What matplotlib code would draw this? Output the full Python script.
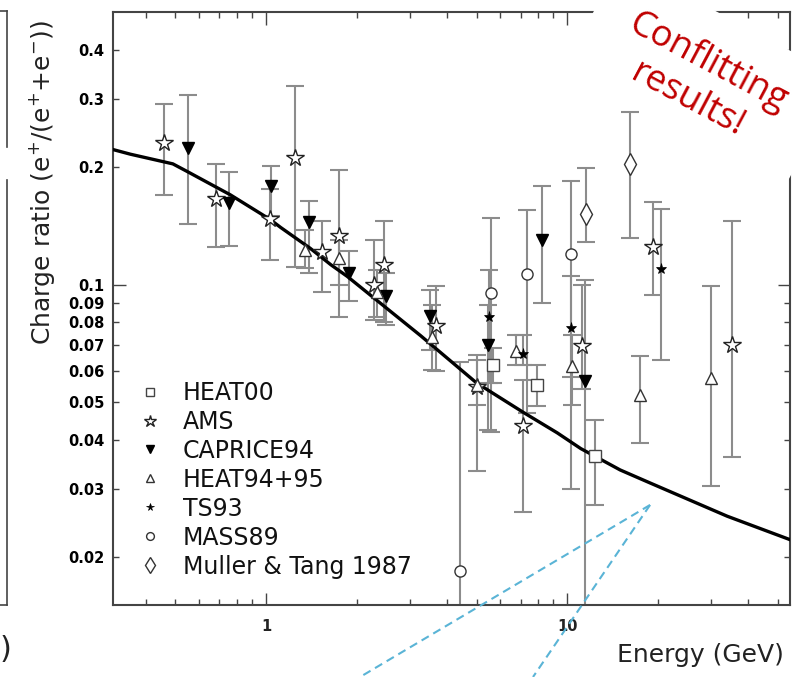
import matplotlib.pyplot as plt
from matplotlib.lines import Line2D
from matplotlib.patches import Polygon
import numpy as np

# positron charge ratio data
curve_e = [0.31, 0.354, 0.49, 0.547, 0.76, 1.03, 1.12, 1.40, 1.64, 1.86, 2.59, 3.26, 5.0, 7.17, 9.27, 11.1, 15.0, 18.9, 34.0, 55.0]
curve_v = [0.222, 0.216, 0.204, 0.195, 0.170, 0.147, 0.140, 0.124, 0.1125, 0.105, 0.0854, 0.074, 0.056, 0.047, 0.0417, 0.038, 0.0335, 0.031, 0.0255, 0.0222]

heat00_e = [5.69, 7.97, 12.42]
heat00_v = [0.0624, 0.0554, 0.0363]
heat00_lo = [0.0561, 0.0488, 0.0273]
heat00_hi = [0.069, 0.0624, 0.0451]

ams_e = [0.457, 0.684, 1.03, 1.245, 1.535, 1.742, 2.28, 2.46, 3.68, 5.03, 7.16, 11.24, 19.3, 35.3]
ams_v = [0.231, 0.166, 0.147, 0.211, 0.121, 0.133, 0.100, 0.112, 0.0782, 0.0548, 0.0433, 0.0695, 0.125, 0.0702]
ams_lo = [0.170, 0.125, 0.116, 0.111, 0.0956, 0.0824, 0.0814, 0.080, 0.0599, 0.0332, 0.0261, 0.054, 0.0943, 0.0361]
ams_hi = [0.291, 0.204, 0.176, 0.3225, 0.146, 0.197, 0.130, 0.146, 0.099, 0.0661, 0.0571, 0.100, 0.1626, 0.146]

caprice_e = [0.549, 0.755, 1.04, 1.39, 1.89, 2.51, 3.49, 5.44, 8.25, 11.46]
caprice_v = [0.224, 0.162, 0.179, 0.145, 0.107, 0.0933, 0.0833, 0.0702, 0.130, 0.0565]
caprice_lo = [0.143, 0.126, 0.150, 0.107, 0.091, 0.079, 0.0681, 0.0425, 0.0898, 0.014]
caprice_hi = [0.307, 0.194, 0.202, 0.1635, 0.1222, 0.1073, 0.0971, 0.0889, 0.1787, 0.103]

heat94_e = [1.35, 1.742, 2.34, 3.57, 5.0, 6.78, 10.39, 17.39, 30.16]
heat94_v = [0.1229, 0.1171, 0.096, 0.0736, 0.0554, 0.0675, 0.062, 0.0522, 0.0576]
heat94_lo = [0.1105, 0.100, 0.0824, 0.0605, 0.0492, 0.0624, 0.0492, 0.0393, 0.0304]
heat94_hi = [0.1384, 0.130, 0.109, 0.0889, 0.0642, 0.0744, 0.0744, 0.0655, 0.0994]

ts93_e = [5.48, 7.16, 10.29, 20.57]
ts93_v = [0.0824, 0.0665, 0.0774, 0.110]
ts93_lo = [0.0561, 0.0624, 0.058, 0.0642]
ts93_hi = [0.1093, 0.0744, 0.105, 0.1566]

mass89_e = [4.39, 5.6, 7.35, 10.3]
mass89_v = [0.0185, 0.0954, 0.1067, 0.120]
mass89_lo = [0.014, 0.042, 0.047, 0.03]
mass89_hi = [0.0635, 0.1485, 0.1557, 0.184]

muller_e = [11.59, 16.14]
muller_v = [0.152, 0.204]
muller_lo = [0.129, 0.132]
muller_hi = [0.199, 0.277]

ytick_vals = [0.02, 0.03, 0.04, 0.05, 0.06, 0.07, 0.08, 0.09, 0.2, 0.3, 0.4]
ytick_labels = ['0.02', '0.03', '0.04', '0.05', '0.06', '0.07', '0.08', '0.09', '0.2', '0.3', '0.4']
xminor_vals = [0.4, 0.5, 0.6, 0.7, 0.8, 0.9, 2, 3, 4, 5, 6, 7, 8, 9, 20, 30, 40, 50]

fig = plt.figure(figsize=(8.06, 6.77), dpi=100)
ax = fig.add_axes([0.1402, 0.1064, 0.8400, 0.8759])
ax.set_xscale('log')
ax.set_yscale('log')

# theory curve
ax.plot(curve_e, curve_v, color='black', lw=2.4, zorder=3, solid_joinstyle='round')

series = [
    ('HEAT00', heat00_e, heat00_v, heat00_lo, heat00_hi,
     dict(marker='s', ms=8, mfc='white', mec='#444', mew=1.0)),
    ('AMS', ams_e, ams_v, ams_lo, ams_hi,
     dict(marker='*', ms=13, mfc='white', mec='#222', mew=1.0)),
    ('CAPRICE94', caprice_e, caprice_v, caprice_lo, caprice_hi,
     dict(marker='v', ms=9, mfc='black', mec='black', mew=1.0)),
    ('HEAT94+95', heat94_e, heat94_v, heat94_lo, heat94_hi,
     dict(marker='^', ms=9, mfc='white', mec='#333', mew=1.0)),
    ('TS93', ts93_e, ts93_v, ts93_lo, ts93_hi,
     dict(marker='*', ms=8, mfc='black', mec='black', mew=0.5)),
    ('MASS89', mass89_e, mass89_v, mass89_lo, mass89_hi,
     dict(marker='o', ms=8, mfc='white', mec='#333', mew=1.0)),
    ('Muller & Tang 1987', muller_e, muller_v, muller_lo, muller_hi,
     dict(marker='d', ms=11, mfc='white', mec='#333', mew=1.0)),
]

handles = []
labels = []
for name, e, v, lo, hi, style in series:
    e = np.array(e)
    v = np.array(v)
    yerr = [v - np.array(lo), np.array(hi) - v]
    ax.errorbar(e, v, yerr=yerr, fmt='none', ecolor='#8c8c8c', elinewidth=1.5,
                capsize=6.5, capthick=1.5, zorder=2)
    ax.plot(e, v, ls='none', zorder=4, **style)
    handles.append(Line2D([], [], ls='none', **style))
    labels.append(name)

ax.set_xlim(0.31, 55)
ax.set_ylim(0.0151, 0.5)

ax.set_xticks([1, 10], ['1', '10'])
ax.set_xticks(xminor_vals, [''] * len(xminor_vals), minor=True)
ax.set_yticks([0.1], ['0.1'])
ax.set_yticks(ytick_vals, ytick_labels, minor=True)

ax.tick_params(which='both', direction='in', top=True, right=True, colors='#444')
ax.tick_params(which='major', length=9, width=1.0)
ax.tick_params(which='minor', length=4.5, width=1.0)
ax.tick_params(axis='y', which='both', pad=6, labelcolor='black')
ax.tick_params(axis='x', which='both', pad=10, labelcolor='#222')
for lab in ax.get_yticklabels(which='both') + ax.get_xticklabels():
    lab.set_fontsize(10.5)
    lab.set_fontweight('bold')
for s in ax.spines.values():
    s.set_color('#444')
    s.set_linewidth(1.5)

ax.set_ylabel('Charge ratio (e$^{+}$/(e$^{+}$+e$^{-}$))', fontsize=18, color='#222',
              va='center')
ax.yaxis.set_label_coords(-0.105, 0.713)
ax.set_xlabel('Energy (GeV)', fontsize=18, color='#222')
ax.xaxis.set_label_coords(0.867, -0.064)

leg = ax.legend(handles, labels, loc='upper left', bbox_to_anchor=(0.037, 0.378),
                frameon=False, fontsize=17, markerscale=0.7, handlelength=1.0,
                handletextpad=0.9, labelspacing=0.21, borderaxespad=0, borderpad=0)
for t in leg.get_texts():
    t.set_color('#111')

# dashed callout lines from the slide
fig.add_artist(Line2D([0.8065, 0.4467], [0.2541, 0.0], transform=fig.transFigure,
                      color='#5ab4d6', lw=1.5, ls=(0, (4, 2.5))))
fig.add_artist(Line2D([0.8065, 0.6613], [0.2541, 0.0], transform=fig.transFigure,
                      color='#5ab4d6', lw=1.5, ls=(0, (4, 2.5))))

# piece of the neighbouring panel on the left edge
for xs, ys in [([0.0087, 0.0087], [0.9838, 0.7829]), ([0.0087, 0.0087], [0.7341, 0.1064]),
               ([0.0, 0.0087], [0.9838, 0.9838]), ([0.0, 0.0087], [0.1064, 0.1064])]:
    fig.add_artist(Line2D(xs, ys, transform=fig.transFigure, color='#444', lw=1.2))
fig.text(0.0, 0.04, ')', ha='left', va='center', fontsize=22, color='#222')

# white text box of the annotation
box = Polygon([(0.7701, 1.0582), (1.045, 0.8842), (0.9782, 0.7343), (0.7032, 0.9083)],
              closed=True, transform=fig.transFigure, facecolor='white', edgecolor='none',
              zorder=5)
fig.add_artist(box)
fig.text(0.866, 0.880, 'Conflitting\nresults!', rotation=-28, rotation_mode='anchor',
         ha='center', va='center', multialignment='center', color='#c00000',
         fontsize=26, family='Open Sans', linespacing=1.25, zorder=6)

fig.savefig('out.png', dpi=100)
